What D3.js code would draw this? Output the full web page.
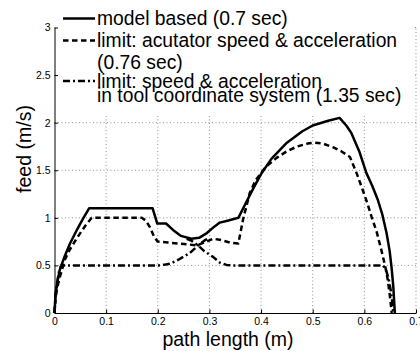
<!DOCTYPE html>
<html><head><meta charset="utf-8">
<script src="https://cdn.jsdelivr.net/npm/d3@7"></script>
<style>
html,body{margin:0;padding:0;background:#fff;}
svg{display:block;}
text{font-family:"Liberation Sans",Arial,Helvetica,sans-serif;fill:#000;}
</style></head><body>
<svg id="chart" width="420" height="351"></svg>
<script>
// ---- data ----
const xTicks = [0, 0.1, 0.2, 0.3, 0.4, 0.5, 0.6, 0.7];
const xTickLabels = ["0", "0.1", "0.2", "0.3", "0.4", "0.5", "0.6", "0.7"];
const yTicks = [0, 0.5, 1, 1.5, 2, 2.5, 3];
const yTickLabels = ["0", "0.5", "1", "1.5", "2", "2.5", "3"];

const modelX = [0, 0.002, 0.005, 0.01, 0.02, 0.03, 0.045, 0.055, 0.067, 0.19, 0.199, 0.208, 0.216, 0.23, 0.245, 0.265, 0.28, 0.295, 0.31, 0.32, 0.335, 0.356, 0.37, 0.385, 0.40, 0.42, 0.45, 0.48, 0.50, 0.53, 0.552, 0.565, 0.575, 0.59, 0.604, 0.615, 0.626, 0.635, 0.643, 0.649, 0.653, 0.656, 0.659];
const modelY = [0, 0.2, 0.31, 0.45, 0.6, 0.73, 0.89, 0.99, 1.1, 1.1, 0.94, 0.94, 0.94, 0.87, 0.81, 0.78, 0.79, 0.84, 0.91, 0.95, 0.97, 1.0, 1.15, 1.31, 1.46, 1.62, 1.79, 1.91, 1.97, 2.02, 2.05, 1.97, 1.89, 1.70, 1.47, 1.34, 1.19, 1.03, 0.84, 0.65, 0.46, 0.28, 0];

const actX = [0, 0.002, 0.005, 0.01, 0.02, 0.03, 0.045, 0.06, 0.072, 0.169, 0.177, 0.185, 0.193, 0.2, 0.22, 0.24, 0.26, 0.275, 0.29, 0.307, 0.32, 0.34, 0.356, 0.365, 0.378, 0.39, 0.41, 0.43, 0.45, 0.47, 0.49, 0.503, 0.52, 0.54, 0.555, 0.572, 0.585, 0.597, 0.606, 0.614, 0.624, 0.633, 0.64, 0.645, 0.649, 0.653];
const actY = [0, 0.15, 0.26, 0.37, 0.56, 0.67, 0.80, 0.92, 1.0, 1.0, 0.97, 0.9, 0.8, 0.75, 0.74, 0.73, 0.72, 0.71, 0.74, 0.78, 0.77, 0.74, 0.73, 0.98, 1.26, 1.40, 1.54, 1.63, 1.70, 1.75, 1.78, 1.79, 1.78, 1.74, 1.70, 1.64, 1.47, 1.29, 1.15, 1.01, 0.85, 0.66, 0.5, 0.36, 0.2, 0];

// null marks a break between the two crossing branches
const toolX = [0, 0.002, 0.005, 0.009, 0.013, 0.2, 0.215, 0.225, 0.24, 0.262, 0.278, 0.29, 0.296, null, 0.256, 0.265, 0.278, 0.29, 0.307, 0.32, 0.333, 0.345, 0.636, 0.642, 0.647, 0.651, 0.654, 0.656];
const toolY = [0, 0.18, 0.32, 0.44, 0.5, 0.5, 0.51, 0.52, 0.56, 0.63, 0.71, 0.76, 0.78, null, 0.78, 0.76, 0.71, 0.65, 0.59, 0.53, 0.505, 0.5, 0.5, 0.45, 0.36, 0.24, 0.12, 0];

const legendLines = [
  {text: "model based (0.7 sec)", sample: "solid"},
  {text: "limit: acutator speed & acceleration", sample: "dash"},
  {text: "(0.76 sec)", sample: null},
  {text: "limit: speed & acceleration", sample: "dashdot"},
  {text: "in tool coordinate system (1.35 sec)", sample: null}
];
const xLabel = "path length (m)";
const yLabel = "feed (m/s)";

// ---- layout ----
const svg = d3.select("#chart");
const mLeft = 54.5, mRight = 416, mTop = 27.5, mBottom = 313;
const x = d3.scaleLinear().domain([0, 0.7]).range([mLeft, mRight]);
const y = d3.scaleLinear().domain([0, 3]).range([mBottom, mTop]);

const dashes = {solid: null, dash: "5.5,3.5", dashdot: "7,3,2,3"};

// grid
const grid = svg.append("g");
grid.selectAll("line.vg").data(xTicks.slice(1)).enter().append("line")
  .attr("x1", d => x(d)).attr("x2", d => x(d)).attr("y1", y(0)).attr("y2", y(3))
  .attr("stroke", "#777").attr("stroke-width", 0.8).attr("stroke-dasharray", "1,2.5");
grid.selectAll("line.hg").data(yTicks.slice(1)).enter().append("line")
  .attr("x1", x(0)).attr("x2", x(0.7)).attr("y1", d => y(d)).attr("y2", d => y(d))
  .attr("stroke", "#777").attr("stroke-width", 0.8).attr("stroke-dasharray", "1,2.5");

// series
function draw(xs, ys, dash) {
  const pts = xs.map((v, i) => [v, ys[i]]);
  const line = d3.line().defined(d => d[0] !== null && d[1] !== null)
    .x(d => x(d[0])).y(d => y(d[1]));
  svg.append("path").datum(pts).attr("d", line)
    .attr("fill", "none").attr("stroke", "#000").attr("stroke-width", 2.5)
    .attr("stroke-linejoin", "round")
    .attr("stroke-dasharray", dash);
}
draw(toolX, toolY, dashes.dashdot);
draw(actX, actY, dashes.dash);
draw(modelX, modelY, dashes.solid);

// axes
const xAxis = d3.axisBottom(x).tickValues(xTicks).tickFormat((d, i) => xTickLabels[i])
  .tickSizeInner(-3.5).tickSizeOuter(0).tickPadding(4.5);
const yAxis = d3.axisLeft(y).tickValues(yTicks).tickFormat((d, i) => yTickLabels[i])
  .tickSizeInner(-3.5).tickSizeOuter(0).tickPadding(6);

const gx = svg.append("g").attr("transform", `translate(0,${mBottom})`).call(xAxis);
const gy = svg.append("g").attr("transform", `translate(${mLeft},0)`).call(yAxis);
[gx, gy].forEach(g => {
  g.select(".domain").attr("stroke", "#000").attr("stroke-width", 1);
  g.selectAll(".tick line").attr("stroke", "#000").attr("stroke-width", 1);
  g.selectAll(".tick text").attr("font-size", 10.5)
    .attr("font-family", '"Liberation Sans",Arial,Helvetica,sans-serif').attr("fill", "#000");
});
gy.selectAll(".tick text").attr("dx", 2);

// axis labels
svg.append("text").attr("x", 228).attr("y", 346).attr("text-anchor", "middle")
  .attr("font-size", 19.5).text(xLabel);
svg.append("text").attr("transform", "translate(31,149) rotate(-90)")
  .attr("text-anchor", "middle").attr("font-size", 19.5).text(yLabel);

// legend
const lg = svg.append("g");
lg.append("rect").attr("x", 58).attr("y", 0).attr("width", 355).attr("height", 116).attr("fill", "#fff");
const baselines = [25, 46.5, 69, 87.5, 101.5];
const sampleY = [18.5, 40.5, null, 81, null];
legendLines.forEach((l, i) => {
  lg.append("text").attr("x", 97).attr("y", baselines[i]).attr("font-size", 19.3).text(l.text);
  if (l.sample) {
    lg.append("line").attr("x1", 63).attr("x2", 95).attr("y1", sampleY[i]).attr("y2", sampleY[i])
      .attr("stroke", "#000").attr("stroke-width", 2.5)
      .attr("stroke-dasharray", dashes[l.sample]);
  }
});
</script>
</body></html>
